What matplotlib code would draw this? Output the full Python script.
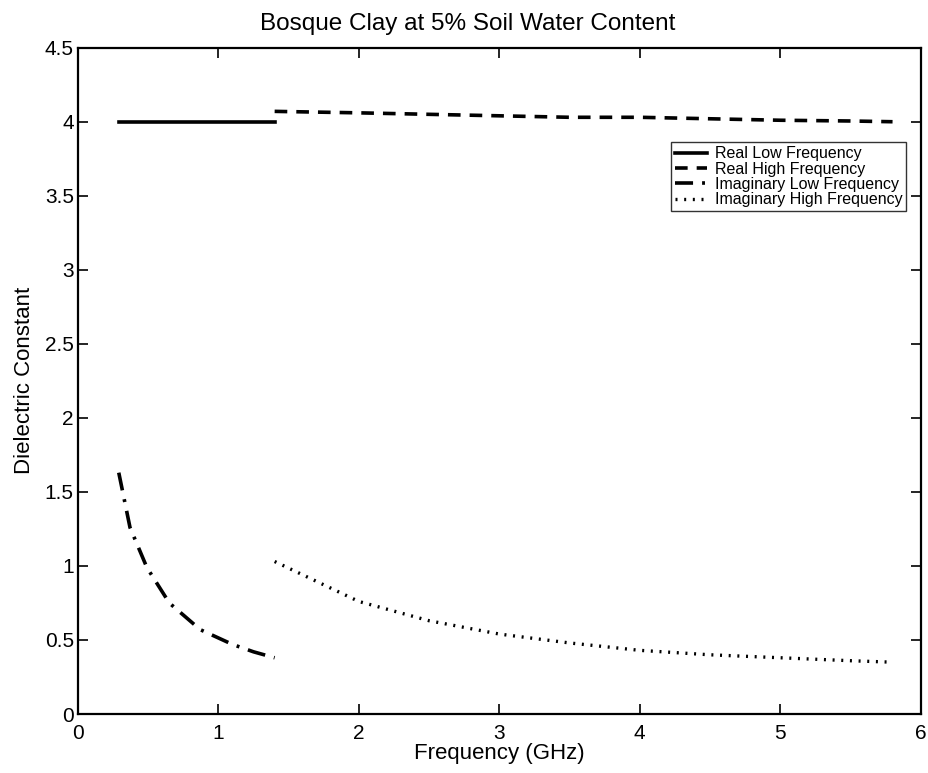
import matplotlib
matplotlib.use("Agg")
import matplotlib.pyplot as plt

plt.rcParams['font.family'] = ['Liberation Sans', 'DejaVu Sans']

# Low-frequency band (GHz)
freq_low = [0.29, 0.37, 0.49, 0.65, 0.87, 1.10, 1.25, 1.40]
real_low = [4.00, 4.00, 4.00, 4.00, 4.00, 4.00, 4.00, 4.00]
imag_low = [1.63, 1.26, 0.99, 0.75, 0.57, 0.47, 0.42, 0.38]

# High-frequency band (GHz)
freq_high = [1.40, 2.00, 2.50, 3.00, 3.50, 4.00, 4.50, 5.00, 5.50, 5.80]
real_high = [4.07, 4.06, 4.05, 4.04, 4.03, 4.03, 4.02, 4.01, 4.005, 4.00]
imag_high = [1.03, 0.76, 0.63, 0.54, 0.48, 0.43, 0.40, 0.38, 0.36, 0.35]

fig = plt.figure(figsize=(9.29, 7.73), dpi=100)
ax = fig.add_axes([0.084, 0.0763, 0.907, 0.862])

ax.plot(freq_low, real_low, color='black', lw=2.6, ls='-', label='Real Low Frequency')
ax.plot(freq_high, real_high, color='black', lw=2.6, ls=(0, (3.5, 2.5)), label='Real High Frequency')
ax.plot(freq_low, imag_low, color='black', lw=2.6, ls=(0, (5, 2.5, 0.8, 2.5)), label='Imaginary Low Frequency')
ax.plot(freq_high, imag_high, color='black', lw=2.4, ls=(0, (0.6, 2.0)), label='Imaginary High Frequency')

ax.set_xlim(0, 6)
ax.set_ylim(0, 4.5)
ax.set_xticks([0, 1, 2, 3, 4, 5, 6])
ax.set_yticks([0, 0.5, 1, 1.5, 2, 2.5, 3, 3.5, 4, 4.5])
ax.set_yticklabels(['0', '0.5', '1', '1.5', '2', '2.5', '3', '3.5', '4', '4.5'])
ax.tick_params(direction='in', top=True, right=True, length=7, width=1.2,
               labelsize=15)
ax.tick_params(axis='x', pad=7)
ax.tick_params(axis='y', pad=3)
for s in ax.spines.values():
    s.set_linewidth(1.6)

ax.set_xlabel('Frequency (GHz)', fontsize=16, labelpad=0)
ax.set_ylabel('Dielectric Constant', fontsize=16, labelpad=7)
ax.set_title('Bosque Clay at 5% Soil Water Content', fontsize=17.5, pad=13, x=0.463)

leg = ax.legend(loc='upper right', bbox_to_anchor=(0.983, 0.858), fontsize=11.5,
                frameon=True, fancybox=False, edgecolor='black',
                handlelength=2.0, handletextpad=0.5, labelspacing=0.02,
                borderpad=0.25, borderaxespad=0)
leg.get_frame().set_linewidth(1.0)

fig.savefig('out.png', dpi=100, facecolor='white')
